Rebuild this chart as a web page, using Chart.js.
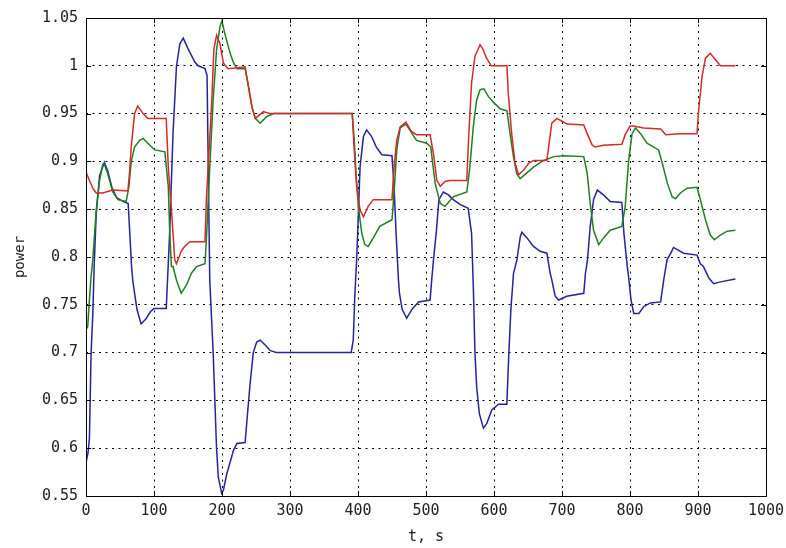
<!DOCTYPE html>
<html>
<head>
<meta charset="utf-8">
<script src="https://cdn.jsdelivr.net/npm/chart.js@4.4.1/dist/chart.umd.min.js"></script>
<style>
  html, body { margin: 0; padding: 0; background: #fff; }
  #wrap { width: 786px; height: 548px; }
</style>
</head>
<body>
<div id="wrap"><canvas id="powerChart"></canvas></div>
<script>
// Axis ticks
const xTicks = [0, 100, 200, 300, 400, 500, 600, 700, 800, 900, 1000];
const yTicks = [0.55, 0.6, 0.65, 0.7, 0.75, 0.8, 0.85, 0.9, 0.95, 1, 1.05];

// Blue series (time, power)
const blueT = [0, 3, 5, 7.5, 10, 12, 15, 20, 27, 32, 38, 45, 55, 62, 64, 67, 69, 75, 81, 88, 95, 100, 118,
  123, 128, 133, 138, 143, 150, 160, 165, 175, 178, 182, 187, 192, 194.5, 199.5, 202, 207, 217, 222, 234,
  236, 241, 246, 251, 256, 263.5, 271, 281, 390, 390.5, 393, 395.5, 398, 399.5, 403, 408, 412.6, 420, 427,
  435, 450, 453, 456, 459.5, 461, 465, 471.6, 479, 489, 506, 508.4, 511, 515, 519, 525.5, 533, 540, 550,
  562, 567, 569.6, 572, 574.5, 578.5, 584.4, 589.4, 596.8, 606.6, 618.9, 621.4, 624.8, 628.7, 633.7, 638.6,
  641, 648.5, 658, 668, 677.7, 682.6, 685, 690, 695, 707, 732, 734.5, 737.5, 741.5, 746.4, 752, 761, 771,
  788, 791, 796, 798, 801.5, 805.5, 813, 820, 830, 845, 849.6, 854.5, 860, 864, 871.5, 879, 898.5, 903.4,
  908, 916, 923, 933, 955];
const blueP = [0.585, 0.595, 0.61, 0.7, 0.74, 0.79, 0.845, 0.885, 0.899, 0.89, 0.873, 0.862, 0.858, 0.856, 0.83, 0.79, 0.774, 0.745, 0.73, 0.735, 0.743, 0.746, 0.746,
  0.825, 0.93, 0.999, 1.023, 1.029, 1.018, 1.004, 1.0, 0.997, 0.99, 0.776, 0.7, 0.6, 0.57, 0.553, 0.556, 0.573, 0.598, 0.605, 0.606,
  0.623, 0.665, 0.7, 0.711, 0.713, 0.708, 0.702, 0.7, 0.7, 0.7, 0.713, 0.762, 0.797, 0.825, 0.894, 0.926, 0.933, 0.926, 0.915,
  0.907, 0.906, 0.874, 0.825, 0.776, 0.762, 0.745, 0.736, 0.745, 0.753, 0.755, 0.776, 0.797, 0.825, 0.86, 0.868, 0.865, 0.86, 0.855,
  0.851, 0.825, 0.769, 0.7, 0.664, 0.636, 0.621, 0.626, 0.64, 0.646, 0.646, 0.692, 0.745, 0.783, 0.797, 0.821,
  0.826, 0.82, 0.811, 0.806, 0.804, 0.783, 0.776, 0.759, 0.755, 0.759, 0.762, 0.783, 0.797, 0.832, 0.86, 0.87, 0.865, 0.858,
  0.857, 0.825, 0.79, 0.779, 0.755, 0.741, 0.741, 0.748, 0.752, 0.753, 0.776, 0.797, 0.804, 0.81, 0.807, 0.804, 0.802, 0.793,
  0.79, 0.778, 0.772, 0.774, 0.777];

// Green series
const greenT = [0, 2.5, 5, 7.4, 10, 12, 15, 20, 24.6, 27, 32, 39.4, 47, 59, 63, 66.5, 71.4, 79, 84, 91, 101, 116,
  118, 121, 123, 125.6, 128, 133, 140, 148, 155, 162.6, 175, 177, 182, 187, 192, 197, 200, 204, 212, 217, 222,
  234, 239, 244, 249, 256, 266, 276, 391.5, 394.5, 397, 400.5, 405.5, 410, 415, 422.5, 432, 450, 453, 457, 462,
  470.5, 476, 486, 501, 507, 513.5, 521, 528, 540, 560, 564.5, 569.5, 574.4, 579.5, 585, 591.6, 599, 609, 619,
  623.6, 628.6, 633.5, 638.5, 648.3, 658, 673, 688, 702.6, 732, 737, 741.5, 746.4, 754, 761, 771, 788, 793,
  798, 803, 808, 815.5, 825, 842, 847.5, 855, 862, 867, 874, 884, 898.5, 903.5, 911, 918, 924, 933, 943, 955];
const greenP = [0.724, 0.727, 0.755, 0.779, 0.797, 0.818, 0.849, 0.88, 0.897, 0.897, 0.887, 0.868, 0.86, 0.858, 0.873, 0.9, 0.915, 0.922, 0.924, 0.919, 0.912, 0.91,
  0.895, 0.874, 0.828, 0.79, 0.79, 0.776, 0.762, 0.771, 0.783, 0.79, 0.793, 0.818, 0.894, 0.964, 1.017, 1.041, 1.047, 1.034, 1.013, 1.003, 0.997,
  0.997, 0.978, 0.957, 0.945, 0.94, 0.947, 0.95, 0.95, 0.922, 0.888, 0.853, 0.825, 0.813, 0.811, 0.82, 0.832, 0.839, 0.867, 0.912, 0.935,
  0.939, 0.933, 0.922, 0.919, 0.915, 0.877, 0.856, 0.853, 0.863, 0.868, 0.894, 0.936, 0.964, 0.975, 0.976, 0.968, 0.962, 0.955, 0.953,
  0.929, 0.905, 0.887, 0.882, 0.888, 0.894, 0.901, 0.905, 0.906, 0.905, 0.888, 0.856, 0.828, 0.813, 0.82, 0.828, 0.832, 0.853,
  0.901, 0.929, 0.935, 0.929, 0.919, 0.912, 0.898, 0.877, 0.863, 0.861, 0.867, 0.872, 0.873, 0.86, 0.839, 0.823, 0.818, 0.823, 0.827, 0.828];

// Red series
const redT = [0, 5, 10, 15, 24.6, 39.4, 61.6, 64, 66.5, 71.4, 76, 84, 91, 118, 121, 126, 130.5, 133, 140, 145, 153,
  175, 177, 181, 185, 188, 192, 197, 202, 209, 234, 239, 244, 249, 261, 271, 391.5, 394.5, 398, 403, 408, 415,
  422.5, 450, 453, 457, 462, 470.5, 479, 486, 506, 511, 516, 521, 528, 535, 560, 563, 567, 572, 579.5, 584, 589,
  596, 619, 621, 626, 631, 636, 643.6, 651, 658, 677.7, 681.6, 685, 692.6, 700, 707.5, 732, 737, 744.5, 749, 761,
  788, 793, 800, 805, 820, 845, 852.5, 874, 898.5, 901, 906, 911, 918, 926, 933, 955];
const redP = [0.889, 0.88, 0.872, 0.867, 0.867, 0.87, 0.869, 0.888, 0.915, 0.95, 0.958, 0.95, 0.945, 0.945, 0.894, 0.846, 0.797, 0.793, 0.806, 0.811, 0.816,
  0.816, 0.86, 0.912, 0.964, 1.017, 1.032, 1.023, 1.003, 0.997, 0.999, 0.978, 0.957, 0.945, 0.952, 0.95, 0.95, 0.912, 0.874, 0.849, 0.842, 0.853,
  0.86, 0.86, 0.894, 0.922, 0.936, 0.941, 0.931, 0.928, 0.928, 0.908, 0.88, 0.874, 0.879, 0.88, 0.88, 0.929, 0.982, 1.01, 1.022, 1.017, 1.008,
  1.0, 1.0, 0.971, 0.929, 0.898, 0.886, 0.891, 0.898, 0.901, 0.901, 0.922, 0.94, 0.945, 0.942, 0.939, 0.938, 0.929, 0.917, 0.915, 0.917,
  0.918, 0.928, 0.937, 0.937, 0.935, 0.934, 0.928, 0.929, 0.929, 0.954, 0.989, 1.008, 1.013, 1.006, 1.0, 1.0];

const pairs = (ts, ps) => ts.map((t, i) => ({ x: t, y: ps[i] }));

const FONT = "'DejaVu Sans Mono', monospace";

// frame + inward ticks like the matlab axes box
const boxPlugin = {
  id: 'box',
  afterDraw(chart) {
    const { ctx, chartArea: a, scales } = chart;
    ctx.save();
    ctx.strokeStyle = '#000';
    ctx.lineWidth = 1;
    ctx.strokeRect(Math.round(a.left) + 0.5, Math.round(a.top) + 0.5, Math.round(a.right - a.left), Math.round(a.bottom - a.top));
    const len = 5;
    ctx.beginPath();
    xTicks.forEach(v => {
      const x = Math.round(scales.x.getPixelForValue(v)) + 0.5;
      ctx.moveTo(x, a.bottom); ctx.lineTo(x, a.bottom - len);
      ctx.moveTo(x, a.top); ctx.lineTo(x, a.top + len);
    });
    yTicks.forEach(v => {
      const y = Math.round(scales.y.getPixelForValue(v)) + 0.5;
      ctx.moveTo(a.left, y); ctx.lineTo(a.left + len, y);
      ctx.moveTo(a.right, y); ctx.lineTo(a.right - len, y);
    });
    ctx.stroke();
    ctx.restore();
  }
};

new Chart(document.getElementById('powerChart'), {
  type: 'line',
  data: {
    datasets: [
      { data: pairs(redT, redP), borderColor: '#d42a2a' },
      { data: pairs(greenT, greenP), borderColor: '#1f7f1f' },
      { data: pairs(blueT, blueP), borderColor: '#24249a' }
    ]
  },
  options: {
    responsive: true,
    maintainAspectRatio: false,
    animation: false,
    layout: { padding: { top: 18, right: 20, left: 0, bottom: 0 } },
    elements: {
      line: { borderWidth: 1.5, tension: 0, fill: false },
      point: { radius: 0 }
    },
    plugins: { legend: { display: false }, tooltip: { enabled: false } },
    scales: {
      x: {
        type: 'linear',
        min: 0, max: 1000,
        afterBuildTicks: s => { s.ticks = xTicks.map(v => ({ value: v })); },
        afterFit: s => { s.height = 52; s.paddingLeft = 0; s.paddingRight = 0; },
        grid: { color: '#000', lineWidth: 1, drawTicks: false },
        border: { display: false, dash: [2, 4.5] },
        ticks: {
          color: '#222', font: { family: FONT, size: 15 }, padding: 6, maxRotation: 0,
          callback: v => String(v)
        },
        title: { display: true, text: 't, s', color: '#222', font: { family: FONT, size: 15 }, padding: { top: 0, bottom: 2 } }
      },
      y: {
        type: 'linear',
        min: 0.55, max: 1.05,
        afterBuildTicks: s => { s.ticks = yTicks.map(v => ({ value: v })); },
        afterFit: s => { s.width = 86; s.paddingTop = 0; s.paddingBottom = 0; },
        grid: { color: '#000', lineWidth: 1, drawTicks: false },
        border: { display: false, dash: [2, 4.5] },
        ticks: {
          color: '#222', font: { family: FONT, size: 15 }, padding: 8,
          callback: v => String(Number(v.toFixed(2)))
        },
        title: { display: true, text: 'power', color: '#222', font: { family: FONT, size: 14 }, padding: { top: 12, bottom: 0 } }
      }
    }
  },
  plugins: [boxPlugin]
});
</script>
</body>
</html>
